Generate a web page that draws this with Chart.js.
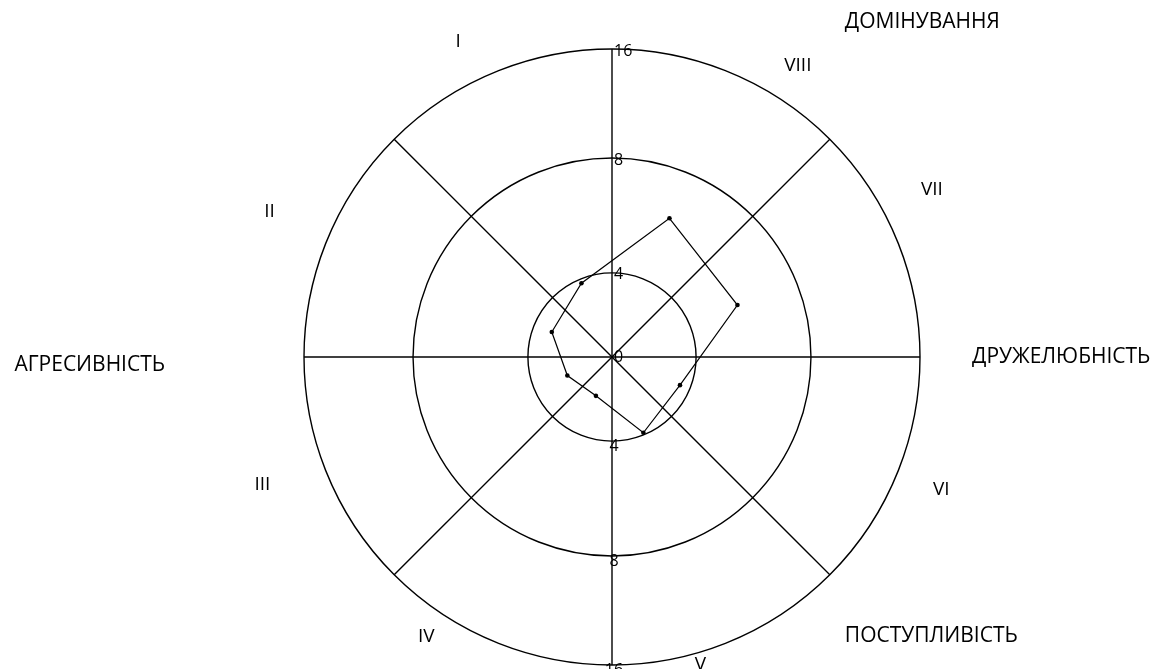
<!DOCTYPE html>
<html>
<head>
<meta charset="utf-8">
<script src="https://cdn.jsdelivr.net/npm/chart.js@4.4.1/dist/chart.umd.min.js"></script>
<style>
  html, body { margin: 0; padding: 0; background: #fff; }
  #wrap { width: 1159px; height: 669px; position: relative; overflow: hidden; }
</style>
</head>
<body>
<div id="wrap"><canvas id="c" width="1159" height="669"></canvas></div>
<script>
// ---- data ----
const octants = ['I', 'II', 'III', 'IV', 'V', 'VI', 'VII', 'VIII'];
const octantScores = [3.8, 3.1, 2.3, 2.0, 3.9, 3.5, 5.8, 6.3];
const tickValues = [0, 4, 8, 16];
const axisTitles = ['ДОМІНУВАННЯ', 'ДРУЖЕЛЮБНІСТЬ', 'ПОСТУПЛИВІСТЬ', 'АГРЕСИВНІСТЬ'];

// ---- non-linear ring scale (rings 4, 8, 16 are not evenly spaced) ----
const ringFractions = [0, 0.273, 0.646, 1];
function scoreToRadial(v) {
  for (let i = 1; i < tickValues.length; i++) {
    if (v <= tickValues[i]) {
      const t = (v - tickValues[i - 1]) / (tickValues[i] - tickValues[i - 1]);
      return ringFractions[i - 1] + t * (ringFractions[i] - ringFractions[i - 1]);
    }
  }
  return 1;
}

// 16 spokes: even spokes are axis lines, odd spokes carry octants
// spoke 1 = VIII, 3 = VII, ... 15 = I (clockwise from top)
const spokeCount = 16;
const spokeLabels = [];
const spokeData = [];
for (let s = 0; s < spokeCount; s++) {
  if (s % 2 === 1) {
    const oct = 7 - (s - 1) / 2;      // VIII, VII, ... I
    spokeLabels.push(octants[oct]);
    spokeData.push(scoreToRadial(octantScores[oct]));
  } else {
    spokeLabels.push('');
    spokeData.push(null);
  }
}

const FONT = '"Open Sans", "Noto Sans", sans-serif';

// label layout (angle clockwise from top in degrees, distance as fraction of outer radius)
const romanPlacement = {
  'VIII': [32.5, 1.123], 'VII': [62.4, 1.172], 'VI': [112, 1.153], 'V': [164, 1.04],
  'IV': [213.6, 1.09], 'III': [250, 1.208], 'II': [293, 1.208], 'I': [334, 1.14]
};
const titlePlacement = [
  { dx: 0.756, dy: -1.088, align: 'left' },
  { dx: 1.169, dy: 0.0, align: 'left' },
  { dx: 0.756, dy: 0.906, align: 'left' },
  { dx: -1.451, dy: 0.026, align: 'right' }
];

const labelPlugin = {
  id: 'leary-labels',
  afterDraw(chart) {
    const sc = chart.scales.r;
    const ctx = chart.ctx;
    const cx = sc.xCenter, cy = sc.yCenter, R = sc.drawingArea;
    ctx.save();
    ctx.fillStyle = '#000';

    // tick labels along the vertical axis (top and bottom)
    ctx.font = '16px ' + FONT;
    tickValues.forEach((v, i) => {
      const d = sc.getDistanceFromCenterForValue(ringFractions[i]);
      const txt = String(v);
      ctx.textAlign = 'left';
      ctx.textBaseline = 'middle';
      ctx.fillText(txt, cx + 2, cy - d + (i === 0 ? 0 : 2));
      if (i > 0) {
        ctx.textAlign = 'center';
        ctx.textBaseline = 'top';
        ctx.fillText(txt, cx + 2, cy + d - 3);
      }
    });

    // octant numerals
    ctx.font = '19px ' + FONT;
    ctx.textAlign = 'center';
    ctx.textBaseline = 'middle';
    octants.forEach((name) => {
      const [deg, f] = romanPlacement[name];
      const p = sc.getPointPosition(deg / (360 / spokeCount), R * f);
      ctx.fillText(name, p.x, p.y);
    });

    // axis titles
    ctx.font = '21px ' + FONT;
    axisTitles.forEach((t, i) => {
      const pl = titlePlacement[i];
      ctx.textAlign = pl.align;
      ctx.textBaseline = 'middle';
      ctx.fillText(t, cx + pl.dx * R, cy + pl.dy * R);
    });
    ctx.restore();
  }
};

new Chart(document.getElementById('c'), {
  type: 'radar',
  data: {
    labels: spokeLabels,
    datasets: [{
      data: spokeData,
      spanGaps: true,
      borderColor: '#000',
      borderWidth: 1.2,
      backgroundColor: '#000',
      fill: false,
      tension: 0,
      pointRadius: 2.3,
      pointBorderWidth: 0,
      pointBackgroundColor: '#000'
    }]
  },
  options: {
    responsive: false,
    animation: false,
    devicePixelRatio: 1,
    layout: { padding: { left: 304, right: 239, top: 49, bottom: 4 } },
    plugins: { legend: { display: false }, tooltip: { enabled: false } },
    scales: {
      r: {
        min: 0,
        max: 1,
        startAngle: 0,
        afterBuildTicks(scale) {
          scale.ticks = ringFractions.map(v => ({ value: v }));
        },
        ticks: { display: false },
        grid: { color: '#000', lineWidth: 1.4, circular: true },
        angleLines: {
          display: true,
          color: (c) => (c.index % 2 === 0 ? '#000' : 'rgba(0,0,0,0)'),
          lineWidth: (c) => (c.index % 2 === 0 ? 1.4 : 0)
        },
        pointLabels: { display: false }
      }
    }
  },
  plugins: [labelPlugin]
});
</script>
</body>
</html>
